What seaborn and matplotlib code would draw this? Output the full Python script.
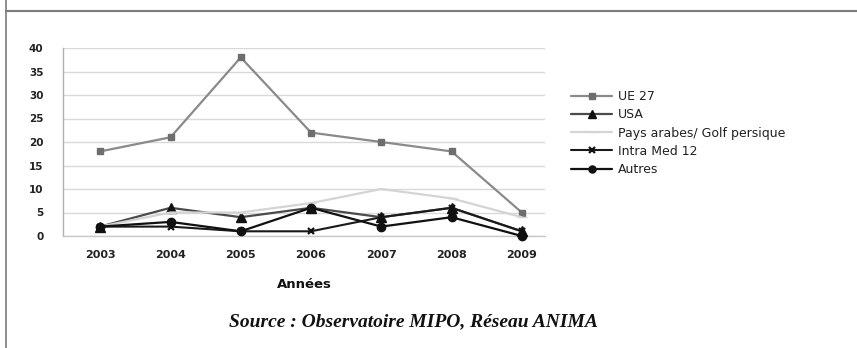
import matplotlib
matplotlib.use("Agg")
import matplotlib.pyplot as plt
from matplotlib.lines import Line2D
import pandas as pd
import seaborn as sns

years = [2003, 2004, 2005, 2006, 2007, 2008, 2009]
ue27 = [18, 21, 38, 22, 20, 18, 5]
usa = [2, 6, 4, 6, 4, 6, 1]
pays_arabes = [2, 5, 5, 7, 10, 8, 4]
intra_med = [2, 2, 1, 1, 4, 6, 1]
autres = [2, 3, 1, 6, 2, 4, 0]

series_names = ["UE 27", "USA", "Pays arabes/ Golf persique", "Intra Med 12", "Autres"]
series_values = [ue27, usa, pays_arabes, intra_med, autres]
y_ticks = [0, 5, 10, 15, 20, 25, 30, 35, 40]
x_label = "Années"
source_text = "Source : Observatoire MIPO, Réseau ANIMA"

rows = []
for name, vals in zip(series_names, series_values):
    for yr, v in zip(years, vals):
        rows.append({"Année": yr, "Valeur": v, "Série": name})
df = pd.DataFrame(rows)

sns.set_theme(style="white")
plt.rcParams["font.family"] = ["DejaVu Sans"]

styles = {
    "UE 27": dict(color="#8a8a8a", marker="s", ms=4.5, mfc="#6e6e6e", mec="#6e6e6e", lw=1.6),
    "USA": dict(color="#4a4a4a", marker="^", ms=6.5, mfc="#111111", mec="#111111", lw=1.6),
    "Pays arabes/ Golf persique": dict(color="#d4d4d4", marker="_", ms=7, mfc="#d4d4d4", mec="#d4d4d4", lw=1.6),
    "Intra Med 12": dict(color="#1a1a1a", marker="x", ms=5, mfc="#111111", mec="#111111", lw=1.5, mew=1.6),
    "Autres": dict(color="#111111", marker="o", ms=6, mfc="#111111", mec="#111111", lw=1.6),
}

fig = plt.figure(figsize=(8.57, 3.48), dpi=100)
ax = fig.add_axes([63 / 857, 1 - 236 / 348, (545 - 63) / 857, (236 - 48) / 348])

handles = []
for name in series_names:
    st = styles[name]
    sub = df[df["Série"] == name]
    sns.lineplot(data=sub, x="Année", y="Valeur", ax=ax, color=st["color"], lw=st["lw"],
                 marker=st["marker"], markersize=st["ms"], markerfacecolor=st["mfc"],
                 markeredgecolor=st["mec"], markeredgewidth=st.get("mew", 1.0),
                 legend=False, clip_on=False, zorder=3)
    handles.append(Line2D([0], [0], color=st["color"], lw=st["lw"], marker=st["marker"],
                          markersize=st["ms"] * 0.85, markerfacecolor=st["mfc"],
                          markeredgecolor=st["mec"], markeredgewidth=st.get("mew", 1.0)))

ax.set_xlim(2002.47, 2009.33)
ax.set_ylim(0, 40)
ax.set_xticks(years)
ax.set_xticklabels([str(y) for y in years], fontsize=8, fontweight="bold", color="#222222")
ax.set_yticks(y_ticks)
ax.set_yticklabels([str(t) for t in y_ticks], fontsize=7.5, fontweight="bold", color="#222222")
ax.tick_params(axis="x", length=0, pad=10)
ax.tick_params(axis="y", length=0, pad=14)
ax.yaxis.grid(True, color="#d9d9d9", lw=1.0)
ax.xaxis.grid(False)
for side in ["top", "right"]:
    ax.spines[side].set_visible(False)
ax.spines["left"].set_color("#b0b0b0")
ax.spines["bottom"].set_color("#c8c8c8")
ax.spines["left"].set_linewidth(1.0)
ax.spines["bottom"].set_linewidth(1.0)
ax.set_xlabel(x_label, fontsize=9.5, fontweight="bold", labelpad=13, color="#111111")
ax.set_ylabel("")

leg = ax.legend(handles, series_names, loc="upper left", bbox_to_anchor=(561 / 857, 1 - 80 / 348),
                bbox_transform=fig.transFigure, frameon=False, fontsize=9, handlelength=3.3,
                handletextpad=0.45, labelspacing=0.42, borderpad=0.3)
for t in leg.get_texts():
    t.set_color("#222222")

fig.text(413 / 857, 1 - 322 / 348, source_text, ha="center", va="center",
         fontsize=14, fontstyle="italic", fontweight="bold", family=["Liberation Serif", "DejaVu Serif"],
         color="#111111")

# outer frame
fig.add_artist(Line2D([6 / 857, 1], [1 - 11 / 348, 1 - 11 / 348], transform=fig.transFigure,
                      color="#7a7a7a", lw=1.5))
fig.add_artist(Line2D([6 / 857, 6 / 857], [0, 1], transform=fig.transFigure,
                      color="#7a7a7a", lw=1.2))

fig.savefig("out.png", dpi=100)
